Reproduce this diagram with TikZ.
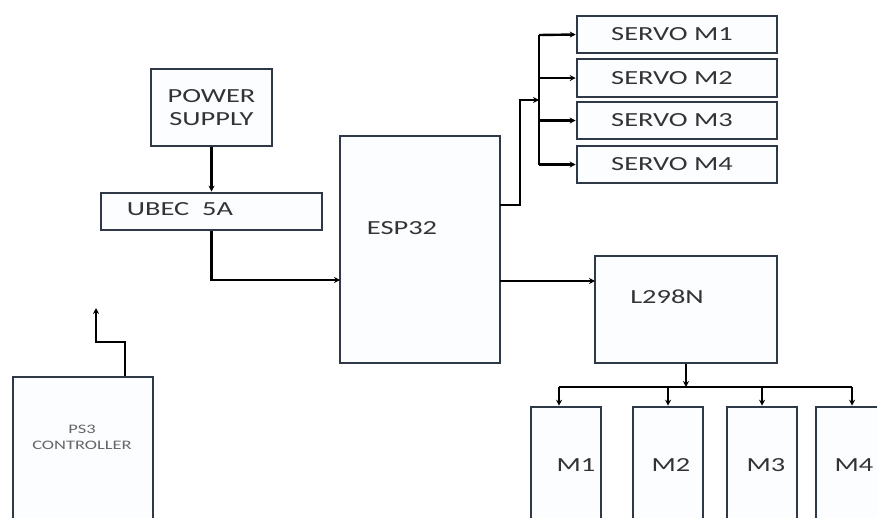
\documentclass[tikz,border=0pt]{standalone}
\usepackage{fontspec}
\setmainfont[FakeStretch=1.42]{Carlito}
\usetikzlibrary{arrows.meta}
\definecolor{boxline}{HTML}{2E3846}
\definecolor{boxfill}{HTML}{FCFDFF}
\definecolor{txt}{HTML}{333333}
\tikzset{
  box/.style={draw=boxline, fill=boxfill, line width=2.6pt, inner sep=0pt, text=txt, font=\fontsize{20}{23}\selectfont, align=center},
  lbl/.style={inner sep=0pt, text=txt, font=\fontsize{20}{23}\selectfont},
  wire/.style={draw=black, line width=2.4pt},
  arr/.style={wire, -{Stealth[length=6pt,width=6pt]}},
}
\begin{document}
\begin{tikzpicture}[x=1pt,y=-1pt]
\useasboundingbox (0,0) rectangle (877,517);
\clip (0,0) rectangle (877,517);
% boxes
\node[box, minimum width=121pt, minimum height=77pt] (ps) at (211.5,107.5) {POWER\\SUPPLY};
\node[box, minimum width=221pt, minimum height=37pt] (ubec) at (211.5,211.5) {};
\node[lbl] (ubect) at (180,209) {UBEC\ \ 5A};
\node[box, minimum width=160pt, minimum height=227pt] (esp) at (420,249.5) {};
\node[lbl] (espt) at (402,228) {ESP32};
\node[box, minimum width=200pt, minimum height=37pt] (s1) at (677,34.5) {SERVO M1\hspace*{10pt}};
\node[box, minimum width=200pt, minimum height=38pt] (s2) at (677,78) {SERVO M2\hspace*{10pt}};
\node[box, minimum width=200pt, minimum height=37pt] (s3) at (677,120.5) {SERVO M3\hspace*{10pt}};
\node[box, minimum width=200pt, minimum height=37pt] (s4) at (677,164.5) {SERVO M4\hspace*{10pt}};
\node[box, minimum width=182pt, minimum height=107pt] (l298) at (686,309.5) {};
\node[lbl] (l298t) at (667,297) {L298N};
\node[box, minimum width=70pt, minimum height=130pt] (m1) at (566,472) {};
\node[box, minimum width=70pt, minimum height=130pt] (m2) at (668,472) {};
\node[box, minimum width=70pt, minimum height=130pt] (m3) at (762,472) {};
\node[box, minimum width=70pt, minimum height=130pt] (m4) at (851,472) {};
\node[lbl] (m1t) at (576,465) {M1};
\node[lbl] (m2t) at (671,465) {M2};
\node[lbl] (m3t) at (766,465) {M3};
\node[lbl] (m4t) at (854,465) {M4};
\node[box, minimum width=140pt, minimum height=150pt] (ps3) at (83,452) {};
\node[inner sep=0pt, align=center, text=txt!75, font=\fontsize{13}{16}\selectfont] (ps3t) at (82,437) {PS3\\CONTROLLER};
% coordinates
\coordinate (espin) at (340,280);
\coordinate (espo1) at (500,205);
\coordinate (busin) at (539,100);
\coordinate (bustop) at (539,35);
\coordinate (busbot) at (539,164.5);
\coordinate (espo2) at (500,281);
\coordinate (l298in) at (595,281);
\coordinate (mbus) at (686,387);
\coordinate (mbl) at (559,387);
\coordinate (mbr) at (852,387);
\coordinate (ant) at (96,308);
% connectors
\draw[arr] (ps.south) -- (ubec.north);
\draw[arr] (ubec.south) |- (espin);
\draw[arr] (espo1) -- ++(20,0) |- (busin);
\draw[wire] (bustop) -- (busbot);
\draw[arr] (bustop) -- (s1.west);
\draw[arr] (bustop |- s2.west) -- (s2.west);
\draw[arr] (bustop |- s3.west) -- (s3.west);
\draw[arr] (busbot) -- (s4.west);
\draw[arr] (espo2) -- (l298in);
\draw[arr] (l298.south) -- (mbus);
\draw[wire] (mbl) -- (mbr);
\draw[arr] (mbl) -- (mbl |- m1.north);
\draw[arr] (m2.north |- mbus) -- (m2.north);
\draw[arr] (m3.north |- mbus) -- (m3.north);
\draw[arr] (mbr) -- (mbr |- m4.north);
\draw[arr] (ps3.north -| 125,0) |- (110,342) -| (ant);
\end{tikzpicture}
\end{document}
